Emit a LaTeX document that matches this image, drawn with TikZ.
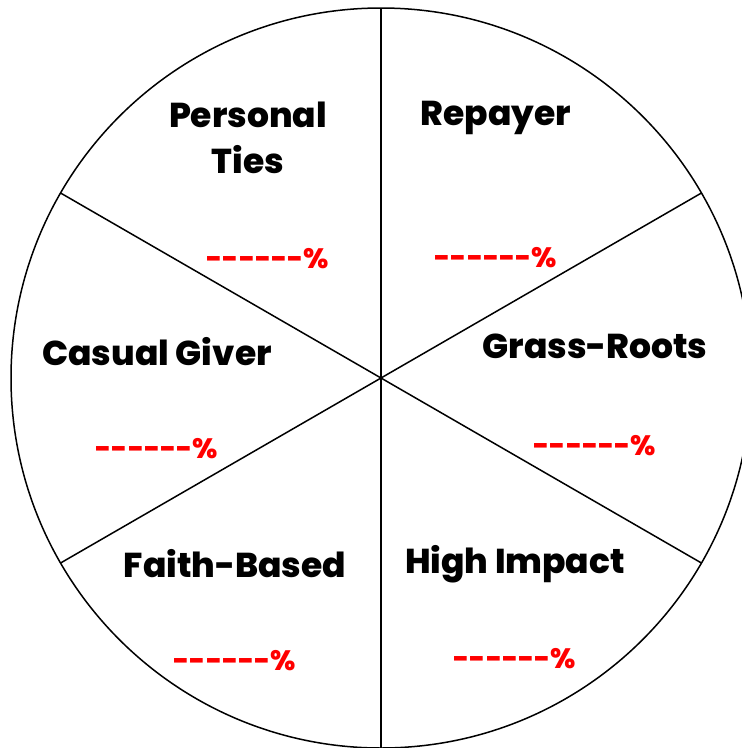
\documentclass[tikz,border=0pt]{standalone}
\usepackage{fontspec}
\setmainfont{Poppins}[BoldFont={Poppins ExtraBold}]
\definecolor{pctred}{RGB}{255,0,0}

\begin{document}
\begin{tikzpicture}[
      x=1pt, y=-1pt,
      wheel/.style={line width=1.5pt, draw=black},
      seglabel/.style={anchor=base, inner sep=0pt, font=\bfseries\fontsize{34.5}{46}\selectfont},
      pct/.style={anchor=base, inner sep=0pt, text=pctred, font=\bfseries\fontsize{28}{36}\selectfont}
  ]
    \useasboundingbox (0,0) rectangle (742,748);
    \clip (0,0) rectangle (742,748);

    % wheel and spokes
    \coordinate (hub) at (381,378);
    \draw[wheel] (hub) circle (370);
    \foreach \a in {30,90,...,330}
      \draw[wheel] (hub) -- ++(\a:370);

    % segment names
    \node[seglabel] (ties)     at (248,127) {Personal};
    \node[seglabel] (ties2)    at (248,173) {Ties};
    \node[seglabel] (repayer)  at (496,125) {Repayer};
    \node[seglabel] (casual)   at (157,365) {Casual Giver};
    \node[seglabel] (grass)    at (595,358) {Grass-Roots};
    \node[seglabel] (faith)    at (235,577) {Faith-Based};
    \node[seglabel] (impact)   at (515,573) {High Impact};

    % blanks for the percentages
    \node[pct] (tiespct)    at (268,268) {-{}-{}-{}-{}-{}-\%};
    \node[pct] (repayerpct) at (496,267) {-{}-{}-{}-{}-{}-\%};
    \node[pct] (casualpct)  at (157,458) {-{}-{}-{}-{}-{}-\%};
    \node[pct] (grasspct)   at (595,455) {-{}-{}-{}-{}-{}-\%};
    \node[pct] (faithpct)   at (235,670) {-{}-{}-{}-{}-{}-\%};
    \node[pct] (impactpct)  at (515,668) {-{}-{}-{}-{}-{}-\%};
\end{tikzpicture}
\end{document}
